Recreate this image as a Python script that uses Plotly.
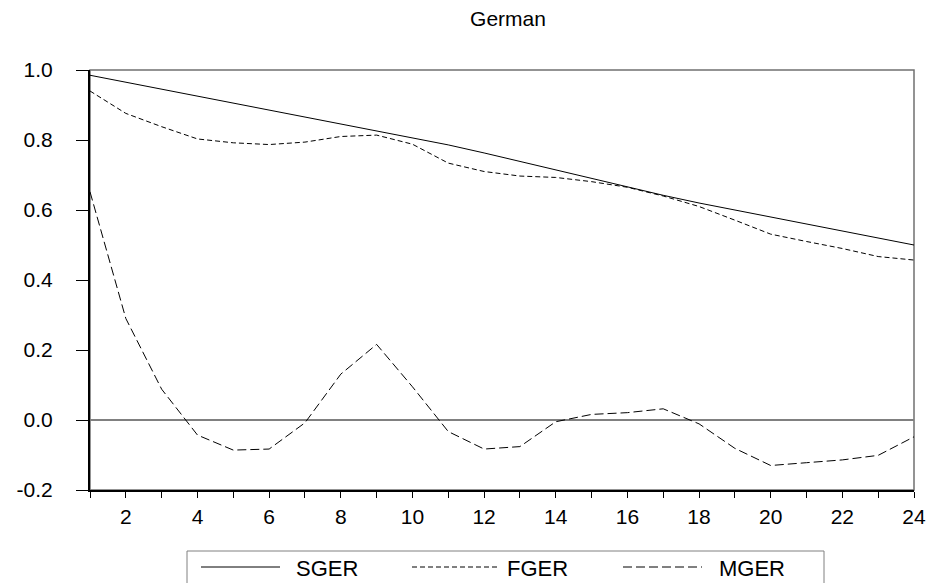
import plotly.graph_objects as go

periods = list(range(1, 25))
sger = [0.985, 0.965, 0.945, 0.925, 0.905, 0.885, 0.865, 0.845, 0.826, 0.806, 0.786, 0.763,
        0.739, 0.714, 0.689, 0.666, 0.642, 0.620, 0.600, 0.580, 0.560, 0.540, 0.520, 0.500]
fger = [0.940, 0.876, 0.838, 0.803, 0.792, 0.787, 0.794, 0.810, 0.814, 0.788, 0.734, 0.710,
        0.697, 0.693, 0.681, 0.665, 0.640, 0.610, 0.571, 0.531, 0.510, 0.490, 0.467, 0.457]
mger = [0.652, 0.290, 0.088, -0.043, -0.086, -0.083, -0.008, 0.131, 0.216, 0.095, -0.033, -0.083,
        -0.076, -0.005, 0.016, 0.021, 0.032, -0.011, -0.081, -0.130, -0.122, -0.114, -0.101, -0.048]

series_names = ["SGER", "FGER", "MGER"]
series_dash = ["solid", "5px,3px", "9px,4px"]

xtick_vals = list(range(1, 25))
xtick_text = [str(v) if v % 2 == 0 else "" for v in xtick_vals]
ytick_vals = [-0.2, 0.0, 0.2, 0.4, 0.6, 0.8, 1.0]
ytick_text = ["-0.2", "0.0", "0.2", "0.4", "0.6", "0.8", "1.0"]

W, H = 932, 583
L, R, T, B = 90, 18, 70, 93
PW, PH = W - L - R, H - T - B

def px(xp):
    return (xp - L) / PW

def py(yp):
    return (H - B - yp) / PH

fig = go.Figure()
for name, vals, dash in zip(series_names, [sger, fger, mger], series_dash):
    fig.add_trace(go.Scatter(x=periods, y=vals, name=name, mode="lines",
                             line=dict(color="black", width=1, dash=dash)))

font = "Liberation Sans, Arial, sans-serif"
fig.update_layout(
    width=W, height=H,
    margin=dict(l=L, r=R, t=T, b=B, autoexpand=False),
    paper_bgcolor="white", plot_bgcolor="white",
    font=dict(family=font, size=21, color="black"),
    title=dict(text="German", x=508 / W, xanchor="center", y=1 - 19 / H, yanchor="middle",
               font=dict(family=font, size=21, color="black")),
    showlegend=False,
    xaxis=dict(range=[1, 24], tickvals=xtick_vals, ticktext=xtick_text,
               ticks="outside", ticklen=6, tickcolor="black", tickwidth=1,
               showline=True, linecolor="black", linewidth=2, showgrid=False,
               zeroline=False, ticklabelstandoff=1, tickfont=dict(size=21)),
    yaxis=dict(range=[-0.2, 1.0], tickvals=ytick_vals, ticktext=ytick_text,
               ticks="outside", ticklen=12, tickcolor="black", tickwidth=1,
               showline=True, linecolor="black", linewidth=2, showgrid=False,
               zeroline=True, zerolinecolor="#808080", zerolinewidth=1.5,
               ticklabelstandoff=19, tickfont=dict(size=21)),
)
fig.add_shape(type="rect", xref="paper", yref="paper", x0=0, y0=0, x1=1, y1=1,
              line=dict(color="#707070", width=1.5), layer="below")

# legend box drawn below the plot
fig.add_shape(type="rect", xref="paper", yref="paper",
              x0=px(187), x1=px(824), y0=py(551), y1=py(600),
              line=dict(color="#808080", width=1))
legend_line_x = [(201, 280), (412, 497), (623, 702)]
legend_text_x = [294, 505, 717]
for name, dash, (a, b), tx in zip(series_names, series_dash, legend_line_x, legend_text_x):
    fig.add_shape(type="line", xref="paper", yref="paper",
                  x0=px(a), x1=px(b), y0=py(567), y1=py(567),
                  line=dict(color="black", width=1, dash=dash))
    fig.add_annotation(text=name, xref="paper", yref="paper", x=px(tx), y=py(568),
                       xanchor="left", yanchor="middle", showarrow=False,
                       font=dict(family=font, size=22, color="black"))

fig.write_html("out.html")
